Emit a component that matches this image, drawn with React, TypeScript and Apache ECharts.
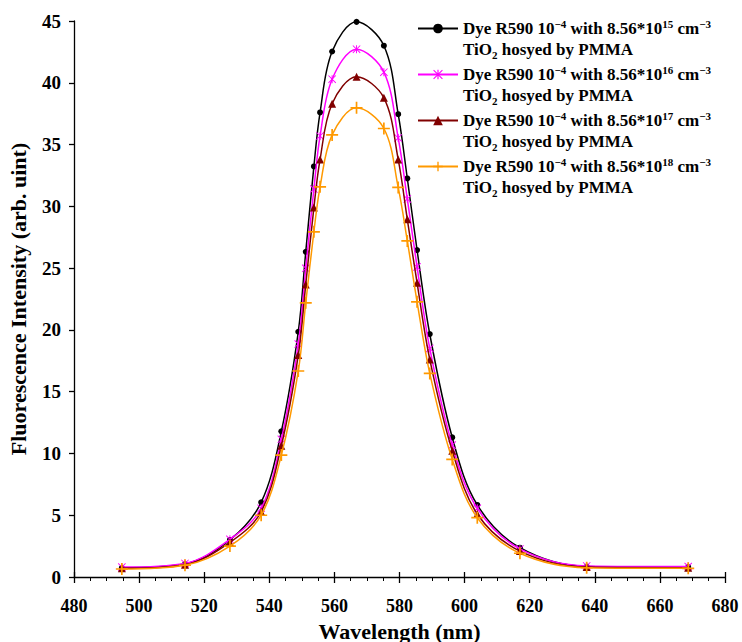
import React, { useEffect, useRef } from "react";
import * as echarts from "echarts";

const wavelengths = [494.7, 514.1, 527.9, 537.5, 543.7, 548.9, 551.2, 553.7, 555.6, 559.3, 566.8, 575.2, 579.6, 582.4, 585.4, 589.3, 596.2, 603.9, 617.0, 637.5, 668.7];
const s15 = [0.75, 1.05, 3.0, 6.04, 11.79, 19.85, 26.32, 33.23, 37.6, 42.53, 44.93, 43.0, 37.46, 32.26, 26.46, 19.66, 11.3, 5.83, 2.37, 0.85, 0.8];
const s16 = [0.8, 1.1, 3.05, 5.56, 11.14, 18.85, 24.98, 31.4, 35.7, 40.29, 42.72, 40.86, 35.54, 30.6, 25.1, 18.5, 10.68, 5.56, 2.27, 0.9, 0.85];
const s17 = [0.7, 1.0, 2.8, 5.28, 10.62, 17.96, 23.68, 29.9, 33.8, 38.3, 40.48, 38.78, 33.8, 28.95, 23.81, 17.61, 10.22, 5.1, 2.1, 0.8, 0.75];
const s18 = [0.65, 0.95, 2.5, 5.0, 9.87, 16.67, 22.19, 27.94, 31.58, 35.78, 37.97, 36.3, 31.53, 27.2, 22.27, 16.48, 9.52, 4.8, 1.92, 0.75, 0.7];

const exponents = ["15", "16", "17", "18"];
const seriesNames = exponents.map((e) => `Dye R590 10^-4 with 8.56*10^${e} cm^-3 TiO2 hosyed by PMMA`);
const seriesValues = [s15, s16, s17, s18];
const colors = ["#000000", "#FF00FF", "#800000", "#FF9900"];

const STAR = "path://M4.4,0H5.6V10H4.4Z M0,0.8L0.8,0L10,9.2L9.2,10Z M9.2,0L10,0.8L0.8,10L0,9.2Z";
const PLUS = "path://M4.3,0H5.7V4.3H10V5.7H5.7V10H4.3V5.7H0V4.3H4.3Z";
const symbols = ["circle", STAR, "triangle", PLUS];
const symbolSizes = [6, 8, 8, 12];

const FONT = "'Liberation Serif', 'Times New Roman', serif";

export default function App() {
  const ref = useRef<HTMLDivElement>(null);
  useEffect(() => {
    if (!ref.current) return;
    const chart = echarts.init(ref.current, null, { renderer: "svg" });
    const series = seriesNames.map((name, i) => ({
      name,
      type: "line",
      data: wavelengths.map((w, j) => [w, seriesValues[i][j]]),
      smooth: 0.35,
      symbol: symbols[i],
      symbolSize: symbolSizes[i],
      showAllSymbol: true,
      lineStyle: { color: colors[i], width: 1.5 },
      itemStyle: { color: colors[i] },
      z: 2 + i,
    }));
    chart.setOption({
      animation: false,
      backgroundColor: "#ffffff",
      textStyle: { fontFamily: FONT },
      grid: { left: 74, right: 17, top: 21, bottom: 65, containLabel: false, outerBoundsMode: "none" },
      legend: {
        orient: "vertical",
        left: 412,
        top: 13,
        itemWidth: 40,
        itemHeight: 12,
        itemGap: 4,
        padding: 5,
        data: seriesNames,
        formatter: (name: string) => {
          const i = seriesNames.indexOf(name);
          return `{b|Dye R590 10}{sup|\u22124}{b| with 8.56*10}{sup|${exponents[i]}}{b| cm}{sup|\u22123}\n{b|TiO}{sub|2}{b| hosyed by PMMA}`;
        },
        textStyle: {
          padding: [0, 0, -21, 0],
          rich: {
            b: { fontFamily: FONT, fontWeight: "bold", fontSize: 17, color: "#000", lineHeight: 21 },
            sup: { fontFamily: FONT, fontWeight: "bold", fontSize: 11, color: "#000", verticalAlign: "top", lineHeight: 14 },
            sub: { fontFamily: FONT, fontWeight: "bold", fontSize: 11, color: "#000", verticalAlign: "bottom", lineHeight: 12 },
          },
        },
      },
      xAxis: [
        {
          type: "value",
          min: 480,
          max: 680,
          interval: 20,
          name: "Wavelength (nm)",
          nameLocation: "middle",
          nameGap: 43,
          nameTextStyle: { fontFamily: FONT, fontWeight: "bold", fontSize: 22, color: "#000" },
          axisLine: { show: true, onZero: false, lineStyle: { color: "#000", width: 1.3 } },
          axisTick: { show: true, inside: false, length: 6, lineStyle: { color: "#000", width: 1.3 } },
          minorTick: { show: true, splitNumber: 4, length: 4, lineStyle: { color: "#000", width: 1 } },
          splitLine: { show: false },
          axisLabel: { fontFamily: FONT, fontWeight: "bold", fontSize: 18, color: "#000", margin: 20 },
        },
        {
          type: "value",
          min: 480,
          max: 680,
          interval: 20,
          position: "bottom",
          axisLine: { show: false, onZero: false },
          axisTick: { show: true, inside: true, length: 5, lineStyle: { color: "#000", width: 1.3 } },
          splitLine: { show: false },
          axisLabel: { show: false },
        },
      ],
      yAxis: {
        type: "value",
        min: 0,
        max: 45,
        interval: 5,
        name: "Fluorescence Intensity (arb. uint)",
        nameLocation: "middle",
        nameGap: 45,
        nameTextStyle: { fontFamily: FONT, fontWeight: "bold", fontSize: 22, color: "#000" },
        axisLine: { show: true, lineStyle: { color: "#000", width: 1.3 } },
        axisTick: { show: true, inside: false, length: 5, lineStyle: { color: "#000", width: 1.3 } },
        splitLine: { show: false },
        axisLabel: { fontFamily: FONT, fontWeight: "bold", fontSize: 19, color: "#000", margin: 13 },
      },
      series,
    });
    return () => chart.dispose();
  }, []);
  return <div ref={ref} style={{ width: 742, height: 642, position: "absolute", left: 0, top: 0 }} />;
}
